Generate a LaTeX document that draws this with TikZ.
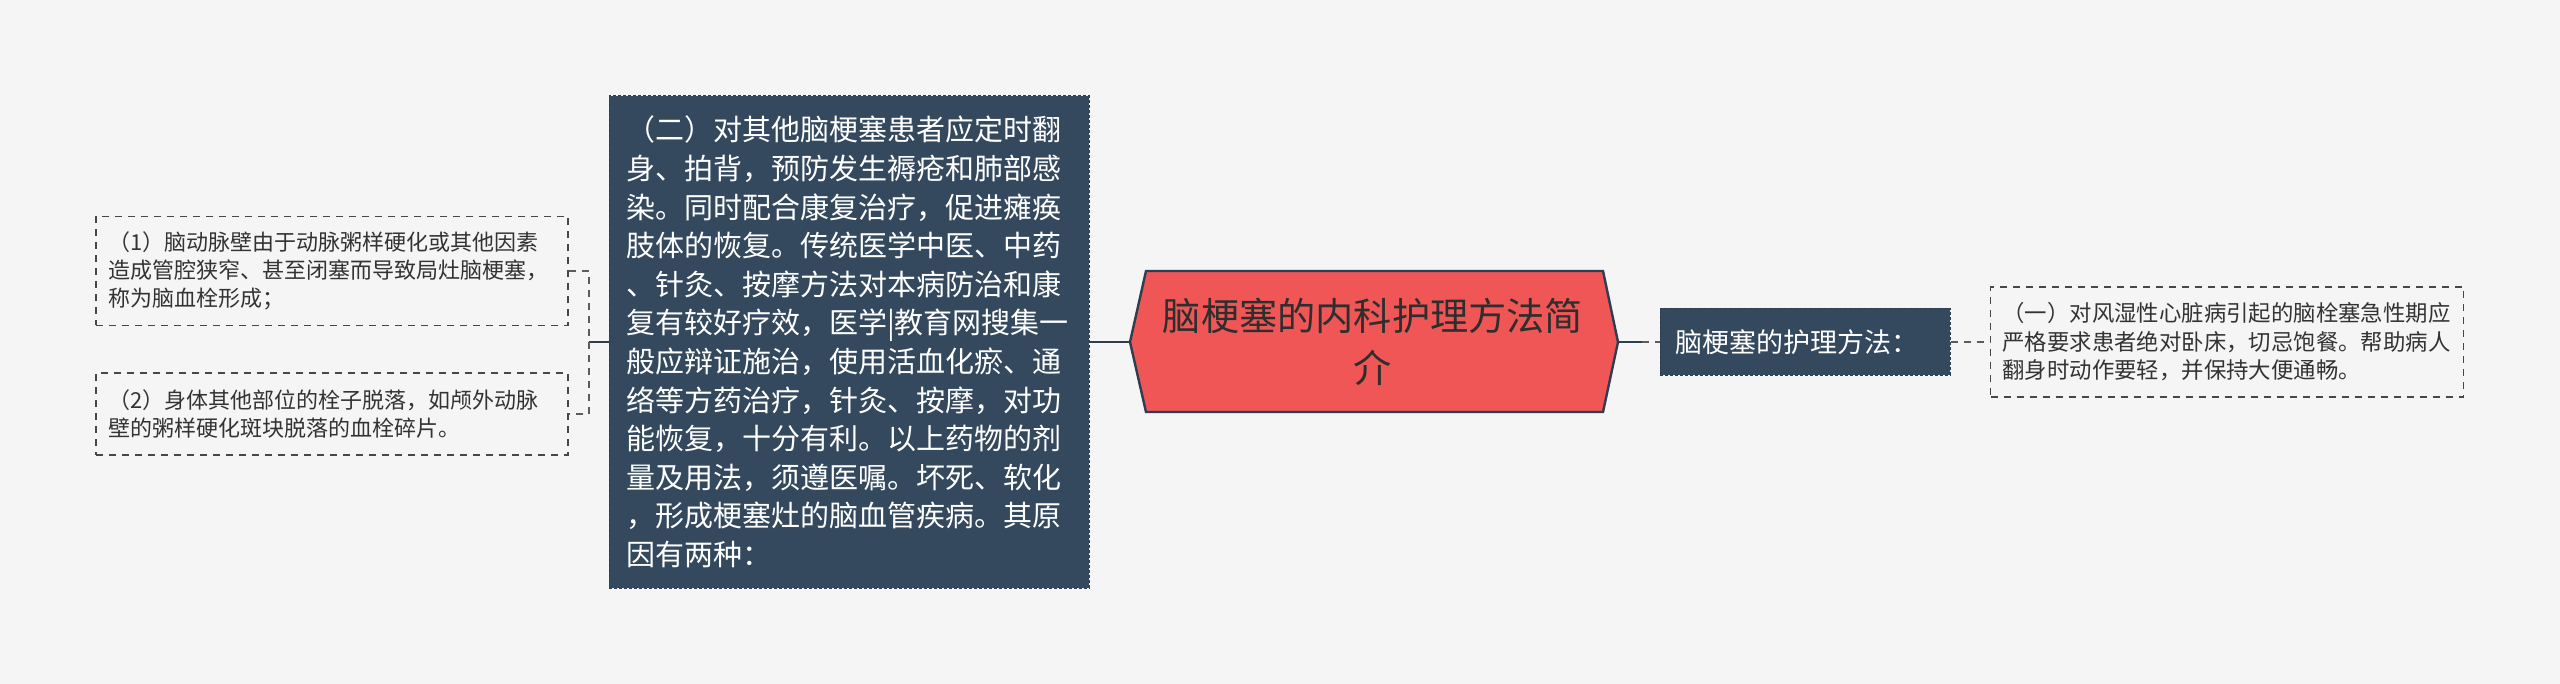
\documentclass[tikz,border=0pt]{standalone}
\usepackage{fontspec}
\setmainfont{Noto Sans CJK SC}
\definecolor{bg}{HTML}{F5F5F5}
\definecolor{slate}{HTML}{34495E}
\definecolor{edge}{HTML}{2C3E50}
\definecolor{coral}{HTML}{F05656}
\definecolor{ink}{HTML}{333333}

\begin{document}
\begin{tikzpicture}[
									x = 1pt,
									y = -1pt,
									leaf/.style = {
										draw = ink!90,
										dash pattern = on 7pt off 6pt,
										line width = 1.6pt,
										fill = bg,
										align = left,
										text = ink,
										text width = 448pt,
										inner xsep = 12pt,
										inner ysep = 0,
										font = \fontsize{22}{27.8}\selectfont
									},
									topic/.style = {
										draw = edge,
										dash pattern = on 3pt off 2pt,
										line width = 1pt,
										fill = slate,
										align = left,
										text = white,
										inner ysep = 0
									},
									link/.style = {
										draw = edge,
										line width = 2.4pt
									},
									dlink/.style = {
										draw = ink!80,
										line width = 1.6pt,
										dash pattern = on 7pt off 6pt
									}
								]
							\path [fill = bg] (0, 0) rectangle (2560, 684);
							\useasboundingbox (0, 0) rectangle (2560, 684);

							\coordinate (rw) at (1130, 342);
							\coordinate (re) at (1618, 342);
							\coordinate (brk) at (589, 342);
							\coordinate (fork) at (1642, 342);

							\filldraw [fill = coral, draw = edge, line width = 2.4pt, line join = miter]
								(rw) -- (1146, 271) -- (1603, 271) -- (re) -- (1603, 412) -- (1146, 412) -- cycle;
							\node [align = center, text = ink!90!black, font = \fontsize{38.2}{52}\selectfont] (root) at (1373, 342)
								{脑梗塞的内科护理方法简\\介};

							\node [topic, text width = 446pt, inner xsep = 17pt, minimum height = 492pt,
								font = \fontsize{29}{38.6}\selectfont] (main) at (849, 342)
								{（二）对其他脑梗塞患者应定时翻\\
								身、拍背，预防发生褥疮和肺部感\\
								染。同时配合康复治疗，促进瘫痪\\
								肢体的恢复。传统医学中医、中药\\
								、针灸、按摩方法对本病防治和康\\
								复有较好疗效，医学|教育网搜集一\\
								般应辩证施治，使用活血化瘀、通\\
								络等方药治疗，针灸、按摩，对功\\
								能恢复，十分有利。以上药物的剂\\
								量及用法，须遵医嘱。坏死、软化\\
								，形成梗塞灶的脑血管疾病。其原\\
								因有两种：};

							\node [leaf, minimum height = 109pt] (leafa) at (332, 271)
								{（1）脑动脉壁由于动脉粥样硬化或其他因素\\
								造成管腔狭窄、甚至闭塞而导致局灶脑梗塞，\\
								称为脑血栓形成；};
							\node [leaf, minimum height = 82pt] (leafb) at (332, 414)
								{（2）身体其他部位的栓子脱落，如颅外动脉\\
								壁的粥样硬化斑块脱落的血栓碎片。};

							\node [topic, text width = 260pt, inner xsep = 15pt, minimum height = 67pt,
								font = \fontsize{27}{32}\selectfont] (sub) at (1805, 342)
								{脑梗塞的护理方法：};

							\node [leaf, text width = 449pt, minimum height = 110pt,
								font = \fontsize{22.4}{28.6}\selectfont] (leafc) at (2227, 342)
								{（一）对风湿性心脏病引起的脑栓塞急性期应\\
								严格要求患者绝对卧床，切忌饱餐。帮助病人\\
								翻身时动作要轻，并保持大便通畅。};

							\draw [link] (main.west) -- (brk);
							\draw [dlink] (leafa.east) -| (brk) |- (leafb.east);
							\draw [link] (main.east) -- (rw);
							\draw [link] (re) -- (fork);
							\draw [dlink] (fork) -- (sub.west);
							\draw [dlink] (sub.east) -- (leafc.west);
						\end{tikzpicture}
\end{document}
